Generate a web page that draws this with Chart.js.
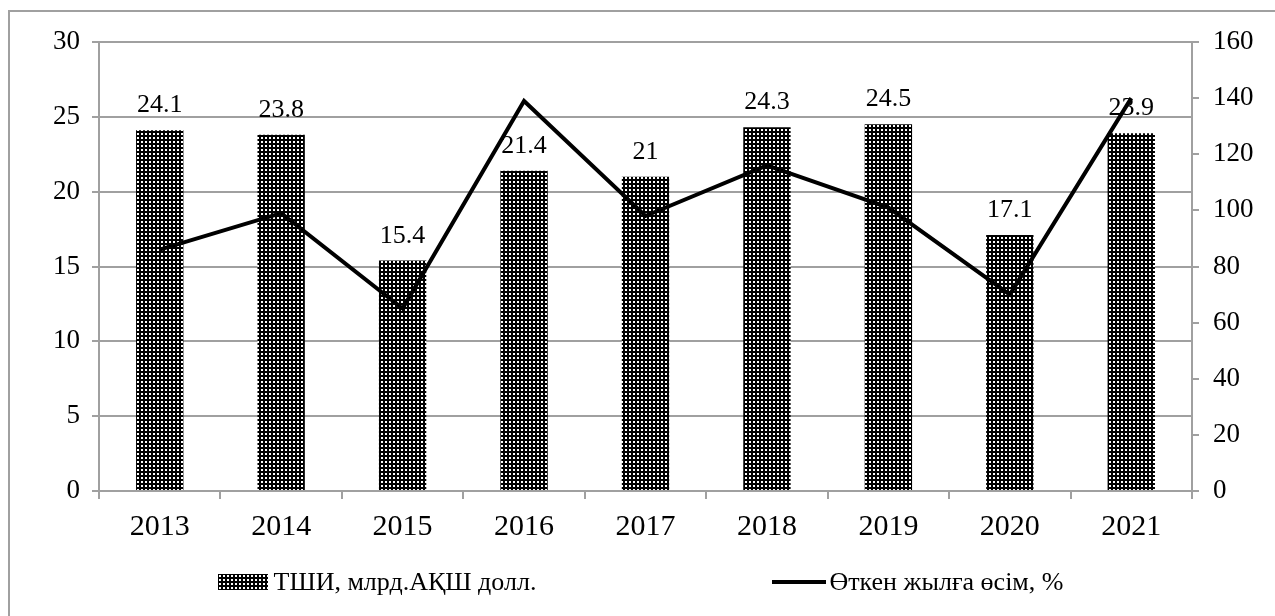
<!DOCTYPE html>
<html>
<head>
<meta charset="utf-8">
<script src="https://cdn.jsdelivr.net/npm/chart.js@4"></script>
<style>
  html, body { margin: 0; padding: 0; background: #fff; }
  #wrap { position: relative; width: 1275px; height: 616px; overflow: hidden; }
  #frame { position: absolute; left: 8px; top: 10px; width: 1400px; height: 800px;
           border: 2px solid #a0a0a0; box-sizing: border-box; }
  #chartBox { position: absolute; left: 0; top: 0; width: 1275px; height: 616px; }
  #legend { position: absolute; left: 0; top: 567px; width: 1275px; display: flex;
            justify-content: center; gap: 236px; font-family: "Liberation Serif", serif;
            font-size: 26px; color: #000; padding-left: 6px; box-sizing: border-box; }
  .item { display: flex; align-items: center; }
  .sw-bar { width: 50px; height: 16px; margin-right: 6px; }
  .sw-line { width: 54px; height: 4px; background: #000; margin-right: 3px; }
</style>
</head>
<body>
<div id="wrap">
  <div id="frame"></div>
  <div id="chartBox"><canvas id="chart"></canvas></div>
  <div id="legend">
    <div class="item"><div class="sw-bar" id="swBar"></div><span>ТШИ, млрд.АҚШ долл.</span></div>
    <div class="item"><div class="sw-line"></div><span>Өткен жылға өсім, %</span></div>
  </div>
</div>
<script>
const years = ['2013', '2014', '2015', '2016', '2017', '2018', '2019', '2020', '2021'];
const fdiValues = [24.1, 23.8, 15.4, 21.4, 21, 24.3, 24.5, 17.1, 23.9];
const growthValues = [86, 99, 65, 139, 98, 116, 101, 70, 140];
const fdiLabel = 'ТШИ, млрд.АҚШ долл.';
const growthLabel = 'Өткен жылға өсім, %';

// dotted fill like the Excel pattern
function makeTile() {
    const c = document.createElement('canvas');
    c.width = 4; c.height = 4;
    const x = c.getContext('2d');
    x.fillStyle = '#000';
    x.fillRect(0, 0, 4, 4);
    x.fillStyle = '#fff';
    x.fillRect(1, 1, 2, 2);
    return c;
}
const tile = makeTile();
const ctx = document.getElementById('chart').getContext('2d');
const dots = ctx.createPattern(tile, 'repeat');
document.getElementById('swBar').style.background = 'url(' + tile.toDataURL() + ')';

const gridColor = '#a0a0a0';
const serif = '"Liberation Serif", "Times New Roman", serif';

// value labels above the bars, drawn under the line
const barLabels = {
    id: 'barLabels',
    beforeDatasetsDraw(chart) {
        const meta = chart.getDatasetMeta(1);
        const c = chart.ctx;
        c.save();
        c.font = '26px ' + serif;
        c.fillStyle = '#000';
        c.textAlign = 'center';
        c.textBaseline = 'alphabetic';
        meta.data.forEach((bar, i) => {
            c.fillText(String(fdiValues[i]), bar.x, bar.y - 18);
        });
        c.restore();
    }
};

new Chart(ctx, {
    data: {
        labels: years,
        datasets: [
            {
                type: 'line',
                label: growthLabel,
                data: growthValues,
                yAxisID: 'y2',
                borderColor: '#000',
                borderWidth: 4,
                pointRadius: 0,
                tension: 0,
                order: 0
            },
            {
                type: 'bar',
                label: fdiLabel,
                data: fdiValues,
                yAxisID: 'y',
                backgroundColor: dots,
                borderWidth: 0,
                categoryPercentage: 1,
                barPercentage: 0.39,
                order: 1
            }
        ]
    },
    options: {
        responsive: true,
        maintainAspectRatio: false,
        animation: false,
        layout: { padding: { top: 42, left: 0, right: 0, bottom: 0 } },
        plugins: {
            legend: { display: false },
            tooltip: { enabled: false }
        },
        scales: {
            x: {
                offset: true,
                grid: { offset: true, drawOnChartArea: false, drawTicks: true, tickLength: 8, color: gridColor, lineWidth: 2 },
                border: { color: gridColor, width: 2 },
                ticks: { color: '#000', font: { family: serif, size: 30 }, padding: 10 },
                afterFit(scale) { scale.height = 125; }
            },
            y: {
                position: 'left',
                min: 0, max: 30,
                ticks: { stepSize: 5, color: '#000', font: { family: serif, size: 27 }, padding: 12 },
                grid: { color: gridColor, lineWidth: 2, tickLength: 7 },
                border: { color: gridColor, width: 2 },
                afterFit(scale) { scale.width = 99; }
            },
            y2: {
                position: 'right',
                min: 0, max: 160,
                ticks: { stepSize: 20, color: '#000', font: { family: serif, size: 27 }, padding: 14 },
                grid: { drawOnChartArea: false, color: gridColor, lineWidth: 2, tickLength: 7 },
                border: { color: gridColor, width: 2 },
                afterFit(scale) { scale.width = 83; }
            }
        }
    },
    plugins: [barLabels]
});
</script>
</body>
</html>
